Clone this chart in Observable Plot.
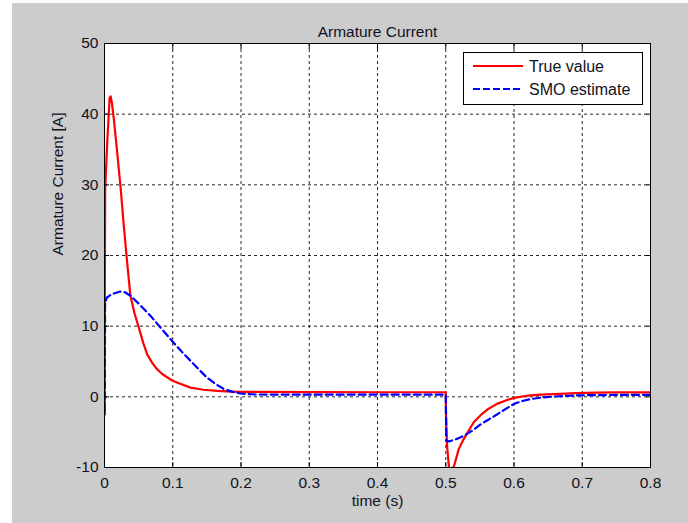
<!DOCTYPE html>
<html>
<head>
<meta charset="utf-8">
<script src="https://cdn.jsdelivr.net/npm/d3@7"></script>
<script src="https://cdn.jsdelivr.net/npm/@observablehq/plot@0.6"></script>
<style>
  html, body { margin: 0; padding: 0; background: #ffffff; }
</style>
</head>
<body>
<div id="chart"></div>
<script>
// ---- data ----
const trueT = [0, 0.001, 0.004, 0.0075, 0.009, 0.011, 0.0137, 0.0186, 0.0234, 0.0283, 0.0332, 0.038, 0.044, 0.0503, 0.0565, 0.0625, 0.07, 0.077, 0.085, 0.093, 0.099, 0.11, 0.126, 0.145, 0.165, 0.185, 0.2, 0.3, 0.4, 0.5,
  0.5005, 0.502, 0.505, 0.509, 0.513, 0.519, 0.525, 0.531, 0.541, 0.551, 0.561, 0.575, 0.59, 0.6, 0.612, 0.624, 0.64, 0.658, 0.675, 0.692, 0.72, 0.75, 0.8];
const trueV = [0, 29.4, 36, 42.3, 42.5, 41.5, 39.3, 34.6, 29.8, 24.2, 19.0, 14.3, 11.8, 9.8, 7.7, 6.0, 4.8, 3.9, 3.2, 2.7, 2.3, 1.9, 1.3, 1.0, 0.85, 0.75, 0.7, 0.66, 0.65, 0.65,
  -3, -7, -10.3, -10.6, -9.5, -7.4, -6.2, -5.2, -3.6, -2.6, -1.8, -1.0, -0.45, -0.15, 0.05, 0.2, 0.3, 0.38, 0.45, 0.52, 0.6, 0.62, 0.62];

const smoT = [0, 0.0004, 0.0008, 0.003, 0.01, 0.023, 0.03, 0.038, 0.05, 0.067, 0.083, 0.099, 0.113, 0.126, 0.138, 0.15, 0.163, 0.175, 0.188, 0.2, 0.22, 0.3, 0.4, 0.5,
  0.5008, 0.505, 0.515, 0.527, 0.54, 0.551, 0.563, 0.575, 0.588, 0.6, 0.612, 0.624, 0.64, 0.658, 0.68, 0.7, 0.75, 0.8];
const smoV = [0, -2.5, 13, 14.0, 14.5, 14.9, 14.8, 14.3, 13.2, 11.5, 9.7, 7.9, 6.4, 5.1, 3.9, 2.73, 1.8, 1.1, 0.7, 0.47, 0.33, 0.3, 0.3, 0.3,
  -6.2, -6.3, -6.0, -5.5, -4.7, -3.9, -3.2, -2.5, -1.7, -1.0, -0.6, -0.33, -0.1, 0.04, 0.15, 0.22, 0.27, 0.28];

const xTicks = [0, 0.1, 0.2, 0.3, 0.4, 0.5, 0.6, 0.7, 0.8];
const yTicks = [-10, 0, 10, 20, 30, 40, 50];
const xTickLabels = ["0", "0.1", "0.2", "0.3", "0.4", "0.5", "0.6", "0.7", "0.8"];

const titleText = "Armature Current";
const xLabel = "time (s)";
const yLabel = "Armature Current [A]";
const seriesNames = ["True value", "SMO estimate"];

// ---- build tables ----
const trueRows = trueT.map((t, i) => ({t, v: trueV[i]}));
const smoRows = smoT.map((t, i) => ({t, v: smoV[i]}));

const font = "'Liberation Sans', Arial, Helvetica, sans-serif";
const textColor = "#111122";

const chart = Plot.plot({
  width: 688,
  height: 523,
  marginLeft: 104,
  marginRight: 38,
  marginTop: 43,
  marginBottom: 56,
  x: {domain: [0, 0.8]},
  y: {domain: [-10, 50]},
  style: {fontFamily: font, fontSize: "15px", color: textColor, background: "transparent"},
  marks: [
    Plot.frame({fill: "white"}),
    Plot.gridX(xTicks.slice(1, -1), {stroke: "#000", strokeOpacity: 0.85, strokeDasharray: "3,3", strokeWidth: 1}),
    Plot.gridY(yTicks.slice(1, -1), {stroke: "#000", strokeOpacity: 0.85, strokeDasharray: "3,3", strokeWidth: 1}),
    Plot.line(trueRows, {x: "t", y: "v", stroke: "#ff0000", strokeWidth: 2.2, clip: true}),
    Plot.line(smoRows, {x: "t", y: "v", stroke: "#0000ff", strokeWidth: 2.2, strokeDasharray: "7,4", clip: true}),
    // inward tick marks on all four sides (MATLAB box style)
    Plot.axisX(xTicks, {anchor: "bottom", tickSize: 5, dy: -5, tickFormat: () => "", label: null, stroke: "#000"}),
    Plot.axisX(xTicks, {anchor: "top", tickSize: 5, dy: 5, tickFormat: () => "", label: null, stroke: "#000"}),
    Plot.axisY(yTicks, {anchor: "left", tickSize: 5, dx: 5, tickFormat: () => "", label: null, stroke: "#000"}),
    Plot.axisY(yTicks, {anchor: "right", tickSize: 5, dx: -5, tickFormat: () => "", label: null, stroke: "#000"}),
    // tick labels
    Plot.axisX(xTicks, {anchor: "bottom", tickSize: 0, tickPadding: 9, tickFormat: (d, i) => xTickLabels[i], label: null, fontSize: 15.5, fill: textColor}),
    Plot.axisY(yTicks, {anchor: "left", tickSize: 0, tickPadding: 6, tickFormat: d => String(d), label: null, fontSize: 15.5, fill: textColor}),
    Plot.frame({stroke: "#000", strokeWidth: 1}),
    // titles
    Plot.text([titleText], {frameAnchor: "top", dy: -18, fontSize: 15.5, fill: textColor}),
    Plot.text([xLabel], {frameAnchor: "bottom", dy: 38, fontSize: 15.5, fill: textColor}),
    Plot.text([yLabel], {frameAnchor: "left", dx: -46, rotate: -90, fontSize: 15.5, fill: textColor})
  ]
});

chart.style.background = "linear-gradient(#cccccc, #cccccc) 12px 3px / 676px 520px no-repeat, #ffffff";
chart.style.display = "block";

// ---- legend (pixel layout inside the axes box) ----
const svg = d3.select(chart);
const lg = svg.append("g").attr("font-family", font).attr("font-size", 16)
  .attr("fill", textColor).attr("text-anchor", "start");
lg.append("rect").attr("x", 463.5).attr("y", 52.5).attr("width", 179).attr("height", 52)
  .attr("fill", "white").attr("stroke", "#000").attr("stroke-width", 1);
const legendStyles = [
  {stroke: "#ff0000", dash: null},
  {stroke: "#0000ff", dash: "7,3"}
];
seriesNames.forEach((name, i) => {
  const y = 66 + i * 23;
  lg.append("line").attr("x1", 473).attr("x2", 523).attr("y1", y).attr("y2", y)
    .attr("stroke", legendStyles[i].stroke).attr("stroke-width", 2.2)
    .attr("stroke-dasharray", legendStyles[i].dash);
  lg.append("text").attr("x", 529).attr("y", y).attr("dy", "0.35em")
    .attr("text-anchor", "start").text(name);
});

document.getElementById("chart").appendChild(chart);
</script>
</body>
</html>
